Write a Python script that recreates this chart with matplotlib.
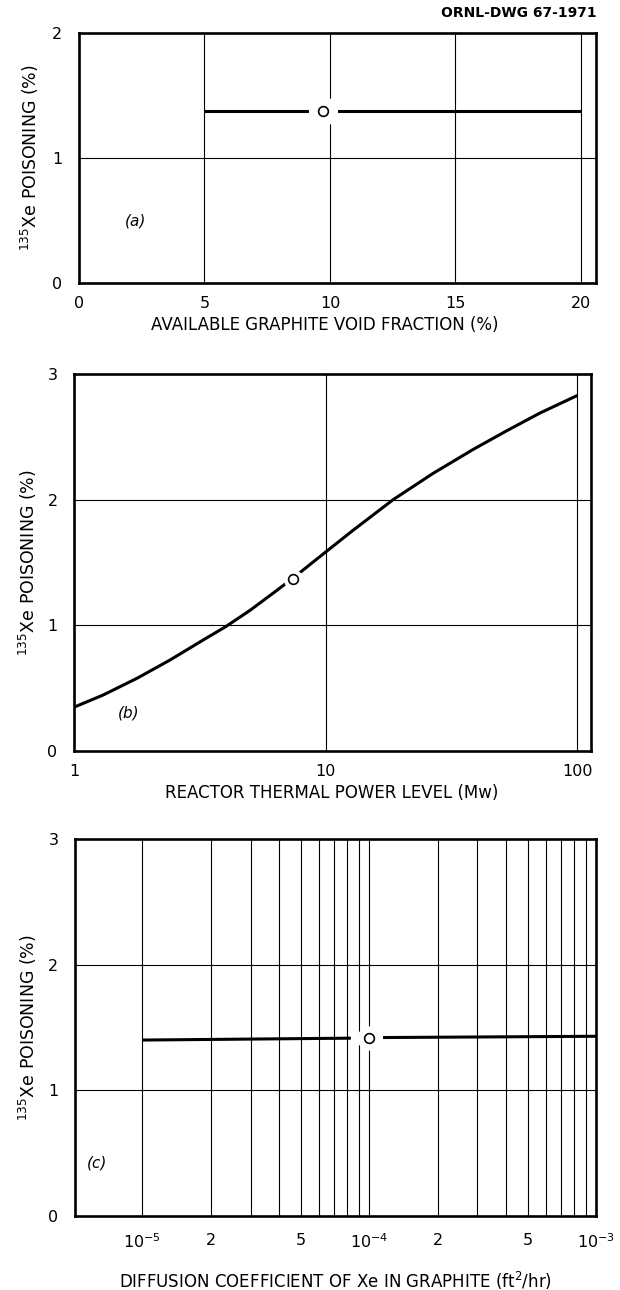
import numpy as np
import matplotlib
matplotlib.use('Agg')
import matplotlib.pyplot as plt
from matplotlib.ticker import FixedLocator, NullFormatter

# panel (a): poisoning vs available graphite void fraction
void_x = [5, 20]
void_y = [1.38, 1.38]
void_pt = (9.72, 1.38)

# panel (b): poisoning vs reactor thermal power
power_x = [1.0, 1.3, 1.78, 2.4, 3.25, 4.0, 5.0, 6.5, 8.0, 10, 12.8, 18.5, 26.7, 38.5, 52.5, 71, 100]
power_y = [0.35, 0.445, 0.58, 0.724, 0.883, 0.99, 1.12, 1.29, 1.43, 1.585, 1.755, 2.0, 2.21, 2.40, 2.55, 2.69, 2.83]
power_pt = (7.4, 1.37)

# panel (c): poisoning vs diffusion coefficient
diff_x1 = [1e-5, 8.3e-5]
diff_y1 = [1.40, 1.415]
diff_x2 = [1.15e-4, 1e-3]
diff_y2 = [1.42, 1.43]
diff_pt = (1e-4, 1.415)

ylab = '$^{135}$Xe POISONING (%)'
plt.rcParams['font.family'] = 'DejaVu Sans'

fig = plt.figure(figsize=(6.2, 12.9), dpi=100)

def style(ax):
    for s in ax.spines.values():
        s.set_linewidth(1.9)
    ax.tick_params(which='both', length=0, labelsize=11.5)
    ax.tick_params(axis='x', pad=9)
    ax.tick_params(axis='y', pad=12)
    ax.grid(True, which='both', color='black', lw=0.8)
    ax.set_axisbelow(True)
    ax.set_ylabel(ylab, fontsize=12.5, va='center')

def mark(ax, pt, gap):
    ax.plot(pt[0], pt[1], 'o', ms=gap, mfc='white', mec='white', zorder=4)
    ax.plot(pt[0], pt[1], 'o', ms=7, mfc='white', mec='black', mew=1.2, zorder=5)

# (a)
ax1 = fig.add_axes([0.1274, 0.7806, 0.8339, 0.1938])
ax1.plot(void_x, void_y, 'k-', lw=2.2, zorder=3, solid_capstyle='butt')
mark(ax1, void_pt, 20)
ax1.set_xlim(0, 20.6)
ax1.set_ylim(0, 2)
ax1.set_xticks([0, 5, 10, 15, 20])
ax1.set_yticks([0, 1, 2])
style(ax1)
ax1.yaxis.set_label_coords(-0.095, 0.5)
ax1.set_xlabel('AVAILABLE GRAPHITE VOID FRACTION (%)', fontsize=12, va='center')
ax1.xaxis.set_label_coords(0.476, -0.168)
ax1.text(2.25, 0.5, '(a)', fontsize=11, style='italic', ha='center', va='center')

# (b)
ax2 = fig.add_axes([0.1198, 0.4178, 0.8334, 0.2922])
ax2.plot(power_x, power_y, 'k-', lw=2.2, zorder=3, solid_capstyle='butt')
mark(ax2, power_pt, 13)
ax2.set_xscale('log')
ax2.set_xlim(1, 113.3)
ax2.set_ylim(0, 3)
ax2.xaxis.set_major_locator(FixedLocator([1, 10, 100]))
ax2.xaxis.set_minor_locator(FixedLocator([]))
ax2.set_xticklabels(['1', '10', '100'])
ax2.set_yticks([0, 1, 2, 3])
style(ax2)
ax2.yaxis.set_label_coords(-0.09, 0.5)
ax2.set_xlabel('REACTOR THERMAL POWER LEVEL (Mw)', fontsize=12, va='center')
ax2.xaxis.set_label_coords(0.499, -0.111)
ax2.text(1.64, 0.30, '(b)', fontsize=11, style='italic', ha='center', va='center')

# (c)
ax3 = fig.add_axes([0.1211, 0.0574, 0.8403, 0.2922])
ax3.plot(diff_x1, diff_y1, 'k-', lw=2.2, zorder=3, solid_capstyle='butt')
ax3.plot(diff_x2, diff_y2, 'k-', lw=2.2, zorder=3, solid_capstyle='butt')
mark(ax3, diff_pt, 16.5)
ax3.set_xscale('log')
ax3.set_xlim(5.05e-6, 1e-3)
ax3.set_ylim(0, 3)
ax3.xaxis.set_major_locator(FixedLocator([1e-5, 2e-5, 5e-5, 1e-4, 2e-4, 5e-4, 1e-3]))
ax3.set_xticklabels(['$10^{-5}$', '2', '5', '$10^{-4}$', '2', '5', '$10^{-3}$'])
minors = [m * 10.0**e for e in (-5, -4) for m in range(2, 10)]
ax3.xaxis.set_minor_locator(FixedLocator(minors))
ax3.xaxis.set_minor_formatter(NullFormatter())
ax3.set_yticks([0, 1, 2, 3])
style(ax3)
ax3.yaxis.set_label_coords(-0.091, 0.5)
ax3.tick_params(axis='x', pad=12)
ax3.grid(False, axis='y', which='minor')
ax3.set_xlabel('DIFFUSION COEFFICIENT OF Xe IN GRAPHITE (ft$^2$/hr)', fontsize=12, va='center')
ax3.xaxis.set_label_coords(0.499, -0.172)
ax3.text(6.3e-6, 0.42, '(c)', fontsize=11, style='italic', ha='center', va='center')

fig.text(0.963, 0.99, 'ORNL-DWG 67-1971', fontsize=10, fontweight='bold', ha='right', va='center')

fig.savefig('out.png', dpi=100)
